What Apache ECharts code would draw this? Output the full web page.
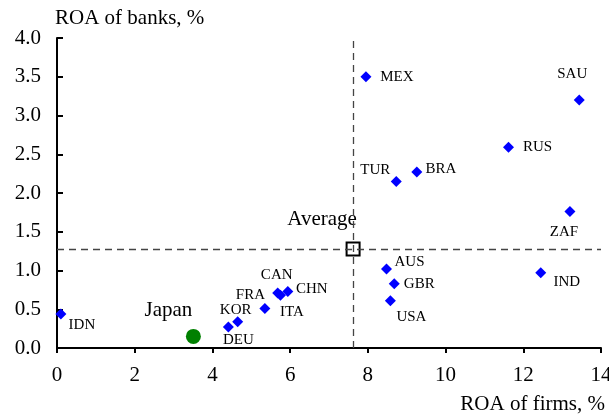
<!DOCTYPE html>
<html>
<head>
<meta charset="utf-8">
<script src="https://cdn.jsdelivr.net/npm/echarts@6/dist/echarts.min.js"></script>
<style>html,body{margin:0;padding:0;background:#fff}#c{width:609px;height:416px}</style>
</head>
<body>
<div id="c"></div>
<script>
// Data
var countries = ['MEX','SAU','RUS','TUR','BRA','ZAF','AUS','GBR','USA','IND','IDN','DEU','KOR','ITA','FRA','CAN','CHN'];
var firmsROA  = [7.95, 13.44, 11.62, 8.73, 9.26, 13.20, 8.48, 8.68, 8.58, 12.45, 0.10, 4.41, 4.65, 5.35, 5.75, 5.68, 5.94];
var banksROA  = [3.50, 3.20, 2.59, 2.15, 2.27, 1.76, 1.02, 0.83, 0.61, 0.97, 0.44, 0.27, 0.34, 0.51, 0.68, 0.71, 0.73];
var japanName = 'Japan';
var japanPoint = [3.51, 0.15];
var averageName = 'Average';
var averagePoint = [7.62, 1.276];
var xTicks = [0, 2, 4, 6, 8, 10, 12, 14];
var yTicks = [0.0, 0.5, 1.0, 1.5, 2.0, 2.5, 3.0, 3.5, 4.0];

// Label placement (label centre offset from marker centre, px)
var labelOffset = {
  MEX:[31,0], SAU:[-7,-26], RUS:[29,0], TUR:[-21,-11], BRA:[24,-3], ZAF:[-6,20],
  AUS:[23,-7], GBR:[25,0], USA:[21,16], IND:[26,9], IDN:[21,11], DEU:[10,13],
  KOR:[-2,-12], ITA:[27,4], FRA:[-30,0], CAN:[-1,-18], CHN:[24,-2]
};

var font = 'Liberation Serif, Times New Roman, serif';

var countryData = countries.map(function(n, i){
  var o = labelOffset[n];
  return {
    name: n,
    value: [firmsROA[i], banksROA[i]],
    label: {show:true, formatter:n, position:'inside', align:'center', verticalAlign:'middle',
            offset:o, color:'#000', fontFamily:font, fontSize:15}
  };
});

var chart = echarts.init(document.getElementById('c'), null, {renderer:'canvas'});
chart.setOption({
  animation:false,
  backgroundColor:'#fff',
  grid:{left:57, right:8, top:38, bottom:68, containLabel:false, outerBoundsMode:'none'},
  xAxis:{
    type:'value', min:xTicks[0], max:xTicks[xTicks.length-1], interval:xTicks[1]-xTicks[0],
    name:'ROA of firms, %', nameLocation:'end', nameGap:0,
    nameTextStyle:{fontFamily:font, fontSize:21, color:'#000', align:'right', verticalAlign:'top', padding:[46,-4,0,0]},
    axisLine:{show:true, onZero:false, lineStyle:{color:'#000', width:2}},
    axisTick:{show:true, inside:false, length:5, lineStyle:{color:'#000', width:2}},
    axisLabel:{fontFamily:font, fontSize:21, color:'#000', margin:17},
    splitLine:{show:false}
  },
  yAxis:{
    type:'value', min:yTicks[0], max:yTicks[yTicks.length-1], interval:yTicks[1]-yTicks[0],
    name:'ROA of banks, %', nameLocation:'end', nameGap:0,
    nameTextStyle:{fontFamily:font, fontSize:21, color:'#000', align:'left', verticalAlign:'bottom', padding:[0,0,9,-2]},
    axisLine:{show:true, onZero:false, lineStyle:{color:'#000', width:2}},
    axisTick:{show:true, inside:true, length:6, lineStyle:{color:'#000', width:2}},
    axisLabel:{fontFamily:font, fontSize:21, color:'#000', margin:16, formatter:function(v){return v.toFixed(1);}},
    splitLine:{show:false}
  },
  series:[
    {
      type:'scatter', symbol:'diamond', symbolSize:11,
      itemStyle:{color:'#0000ff', opacity:1},
      data:countryData, z:3
    },
    {
      type:'scatter', symbol:'circle', symbolSize:15,
      itemStyle:{color:'#008000', opacity:1},
      data:[{name:japanName, value:japanPoint,
        label:{show:true, formatter:japanName, position:'inside', align:'center', verticalAlign:'middle',
               offset:[-25,-26], color:'#000', fontFamily:font, fontSize:21}}],
      z:3
    },
    {
      type:'scatter', symbol:'rect', symbolSize:13,
      itemStyle:{color:'#fff', borderColor:'#000', borderWidth:2, opacity:1},
      data:[{name:averageName, value:averagePoint,
        label:{show:true, formatter:averageName, position:'inside', align:'center', verticalAlign:'middle',
               offset:[-31,-30], color:'#000', fontFamily:font, fontSize:21}}],
      markLine:{
        silent:true, symbol:['none','none'],
        lineStyle:{color:'#444', type:[7,5], width:1.3},
        label:{show:false},
        data:[{xAxis:averagePoint[0]}, {yAxis:averagePoint[1]}]
      },
      z:4
    }
  ]
});
</script>
</body>
</html>
